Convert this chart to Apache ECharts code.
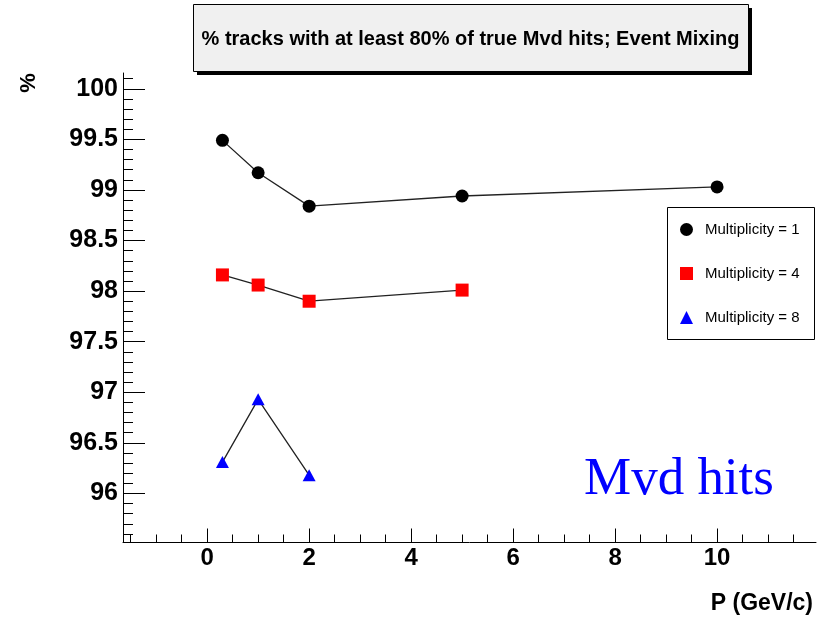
<!DOCTYPE html>
<html>
<head>
<meta charset="utf-8">
<script src="https://cdn.jsdelivr.net/npm/echarts@6/dist/echarts.min.js"></script>
<style>
  html, body { margin: 0; padding: 0; background: #ffffff; }
  #chart { width: 823px; height: 623px; }
</style>
</head>
<body>
<div id="chart"></div>
<script>
// Efficiency (%) of tracks keeping at least 80% of their true Mvd hits, vs momentum
const momentumM1 = [0.3, 1, 2, 5, 10];
const efficiencyM1 = [99.49, 99.17, 98.84, 98.94, 99.03];
const momentumM4 = [0.3, 1, 2, 5];
const efficiencyM4 = [98.16, 98.06, 97.90, 98.01];
const momentumM8 = [0.3, 1, 2];
const efficiencyM8 = [96.31, 96.93, 96.18];
const seriesNames = ['Multiplicity = 1', 'Multiplicity = 4', 'Multiplicity = 8'];

const titleText = '% tracks with at least 80% of true Mvd hits; Event Mixing';
const xAxisTitle = 'P (GeV/c)';
const yAxisTitle = '%';
const annotation = 'Mvd hits';

// axis ranges and tick positions
const xRange = [-1.65, 11.94];
const yRange = [95.515, 100.156];
const xMajorTicks = [0, 2, 4, 6, 8, 10];
const xTickLabels = ['0', '2', '4', '6', '8', '10'];
const yMajorTicks = [96, 96.5, 97, 97.5, 98, 98.5, 99, 99.5, 100];
const yTickLabels = ['96', '96.5', '97', '97.5', '98', '98.5', '99', '99.5', '100'];

function subTicks(from, to, step, skip) {
  const out = [];
  const n = Math.round((to - from) / step);
  for (let i = 0; i <= n; i++) {
    const v = Math.round((from + i * step) * 1000) / 1000;
    if (skip.indexOf(v) < 0) out.push(v);
  }
  return out;
}
const xMinorTicks = subTicks(-1.5, 11.5, 0.5, xMajorTicks);
const yMinorTicks = subTicks(95.6, 100.1, 0.1, yMajorTicks);

const pairs = (xs, ys) => xs.map((x, i) => [x, ys[i]]);

const FONT = '"Liberation Sans", Arial, Helvetica, sans-serif';
const chart = echarts.init(document.getElementById('chart'), null, { renderer: 'canvas' });

const majorLabelX = {};
xMajorTicks.forEach((v, i) => { majorLabelX[v] = xTickLabels[i]; });
const majorLabelY = {};
yMajorTicks.forEach((v, i) => { majorLabelY[v] = yTickLabels[i]; });

chart.setOption({
  animation: false,
  backgroundColor: '#ffffff',
  grid: { left: 123, top: 73, right: 7, bottom: 80.5, containLabel: false },
  xAxis: [
    {
      type: 'value', position: 'bottom', min: xRange[0], max: xRange[1],
      axisLine: { show: true, onZero: false, lineStyle: { color: '#000', width: 1 } },
      axisTick: { show: true, inside: true, length: 14, customValues: xMajorTicks,
                  lineStyle: { color: '#000', width: 1 } },
      axisLabel: { show: true, customValues: xMajorTicks, margin: 4,
                   formatter: v => majorLabelX[v] !== undefined ? majorLabelX[v] : '',
                   color: '#000', fontFamily: FONT, fontWeight: 'bold', fontSize: 24 },
      splitLine: { show: false }
    },
    {
      type: 'value', position: 'bottom', min: xRange[0], max: xRange[1],
      axisLine: { show: false, onZero: false },
      axisTick: { show: true, inside: true, length: 8, customValues: xMinorTicks,
                  lineStyle: { color: '#000', width: 1 } },
      axisLabel: { show: false },
      splitLine: { show: false }
    }
  ],
  yAxis: [
    {
      type: 'value', position: 'left', min: yRange[0], max: yRange[1],
      axisLine: { show: true, onZero: false, lineStyle: { color: '#000', width: 1 } },
      axisTick: { show: true, inside: true, length: 22, customValues: yMajorTicks,
                  lineStyle: { color: '#000', width: 1 } },
      axisLabel: { show: true, customValues: yMajorTicks, margin: 5,
                   formatter: v => majorLabelY[v] !== undefined ? majorLabelY[v] : '',
                   color: '#000', fontFamily: FONT, fontWeight: 'bold', fontSize: 25 },
      splitLine: { show: false }
    },
    {
      type: 'value', position: 'left', min: yRange[0], max: yRange[1],
      axisLine: { show: false, onZero: false },
      axisTick: { show: true, inside: true, length: 10, customValues: yMinorTicks,
                  lineStyle: { color: '#000', width: 1 } },
      axisLabel: { show: false },
      splitLine: { show: false }
    }
  ],
  legend: {
    orient: 'vertical',
    left: 680, top: 222,
    itemWidth: 13, itemHeight: 13, itemGap: 29,
    padding: 0,
    textStyle: { color: '#000', fontFamily: FONT, fontSize: 15, lineHeight: 13, padding: [0, 0, 0, 7] },
    data: [
      { name: seriesNames[0], icon: 'circle' },
      { name: seriesNames[1], icon: 'rect' },
      { name: seriesNames[2], icon: 'triangle' }
    ]
  },
  graphic: [
    // title pave with drop shadow
    { type: 'rect', z: 10, shape: { x: 197, y: 8, width: 555, height: 67 }, style: { fill: '#000' } },
    { type: 'rect', z: 11, shape: { x: 193.5, y: 4.5, width: 555, height: 67 },
      style: { fill: '#f0f0f0', stroke: '#000', lineWidth: 1 } },
    { type: 'text', z: 12, x: 470.5, y: 39,
      style: { text: titleText, fill: '#000', font: 'bold 20px ' + FONT, align: 'center', verticalAlign: 'middle' } },
    // legend frame
    { type: 'rect', z: 1, shape: { x: 667.5, y: 207.5, width: 147, height: 132 },
      style: { fill: '#fff', stroke: '#000', lineWidth: 1 } },
    // axis titles
    { type: 'text', z: 12, x: 813, y: 604,
      style: { text: xAxisTitle, fill: '#000', font: 'bold 23px ' + FONT, align: 'right', verticalAlign: 'middle' } },
    { type: 'text', z: 12, x: 29, y: 83, rotation: Math.PI / 2, originX: 0, originY: 0,
      style: { text: yAxisTitle, fill: '#000', font: 'bold 22px ' + FONT, align: 'center', verticalAlign: 'middle' } },
    // annotation
    { type: 'text', z: 12, x: 584, y: 480,
      style: { text: annotation, fill: '#0000ff', font: '53px "Liberation Serif", "Times New Roman", serif', align: 'left', verticalAlign: 'middle' } }
  ],
  series: [
    {
      name: seriesNames[0], type: 'line', xAxisIndex: 0, yAxisIndex: 0,
      data: pairs(momentumM1, efficiencyM1),
      symbol: 'circle', symbolSize: 13,
      itemStyle: { color: '#000' },
      lineStyle: { color: '#222', width: 1.3 }
    },
    {
      name: seriesNames[1], type: 'line', xAxisIndex: 0, yAxisIndex: 0,
      data: pairs(momentumM4, efficiencyM4),
      symbol: 'rect', symbolSize: 13,
      itemStyle: { color: '#ff0000' },
      lineStyle: { color: '#222', width: 1.3 }
    },
    {
      name: seriesNames[2], type: 'line', xAxisIndex: 0, yAxisIndex: 0,
      data: pairs(momentumM8, efficiencyM8),
      symbol: 'triangle', symbolSize: [13, 12],
      itemStyle: { color: '#0000ff' },
      lineStyle: { color: '#222', width: 1.3 }
    }
  ]
});
</script>
</body>
</html>
